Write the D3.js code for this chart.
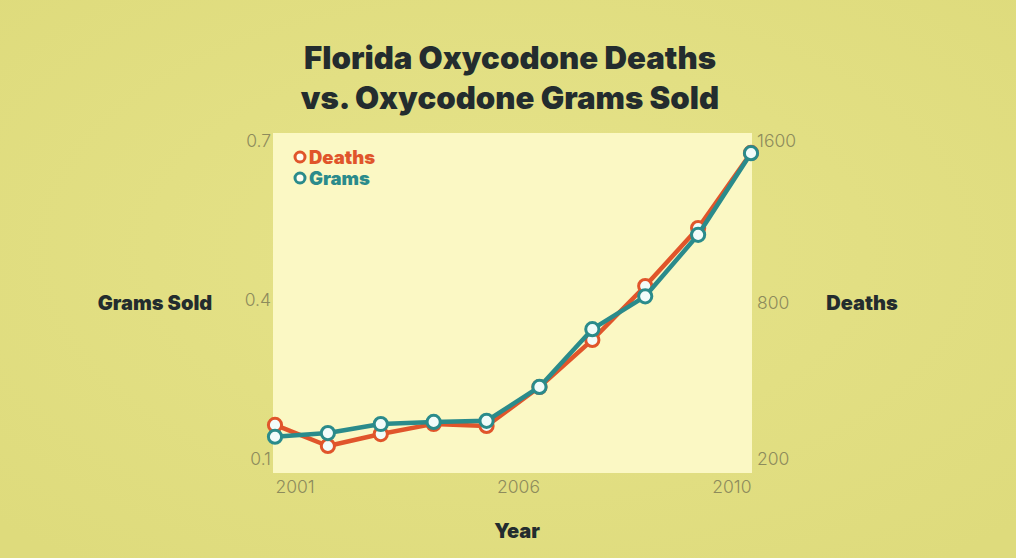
<!DOCTYPE html>
<html>
<head>
<meta charset="utf-8">
<script src="https://cdn.jsdelivr.net/npm/d3@7/dist/d3.min.js"></script>
<style>
  html, body { margin: 0; padding: 0; background: #e3e084; }
  svg { display: block; }
</style>
</head>
<body>
<svg id="chart" width="1016" height="558"></svg>
<script>
// ---- data ----
const years = [2001, 2002, 2003, 2004, 2005, 2006, 2007, 2008, 2009, 2010];
const grams = [0.142, 0.149, 0.166, 0.170, 0.172, 0.236, 0.345, 0.407, 0.523, 0.677];
const deaths = [331, 250, 296, 335, 327, 477, 658, 884, 1170, 1541];
const gramsTicks = [0.1, 0.4, 0.7];
const deathsTicks = [200, 800, 1600];
const yearTicks = [2001, 2006, 2010];
const titleLines = ["Florida Oxycodone Deaths", "vs. Oxycodone Grams Sold"];

// ---- layout ----
const W = 1016, H = 558;
const plot = { left: 273, right: 752, top: 133, bottom: 473 };
const colors = { deaths: "#e0552b", grams: "#2a8b8b", dark: "#232c2e", tick: "#8d8b5c", plotBg: "#fbf8c4" };
const FONT = "Inter, 'Open Sans', sans-serif";

const svg = d3.select("#chart");

// background
const defs = svg.append("defs");
const grad = defs.append("radialGradient").attr("id", "bgGrad").attr("cx", "50%").attr("cy", "45%").attr("r", "70%");
grad.append("stop").attr("offset", "0%").attr("stop-color", "#e6e38a");
grad.append("stop").attr("offset", "100%").attr("stop-color", "#dedb7c");
svg.append("rect").attr("width", W).attr("height", H).attr("fill", "url(#bgGrad)");

// plot area
svg.append("rect")
  .attr("x", plot.left).attr("y", plot.top)
  .attr("width", plot.right - plot.left).attr("height", plot.bottom - plot.top)
  .attr("fill", colors.plotBg);

// scales
const x = d3.scaleLinear().domain([2001, 2010]).range([275, 751]);
const yG = d3.scaleLinear().domain([0.1, 0.7]).range([459, 141]);
const yD = d3.scaleLinear().domain([200, 800, 1600]).range([459, 303, 141]);

// title
svg.append("g").selectAll("text").data(titleLines).join("text")
  .attr("x", 510).attr("y", (d, i) => 69 + i * 39.5)
  .attr("text-anchor", "middle")
  .attr("font-family", FONT)
  .attr("font-weight", 900)
  .attr("font-size", 31.2)
  .attr("fill", colors.dark)
  .text(d => d);

// axes
function styleAxis(g) {
  g.select(".domain").remove();
  g.selectAll(".tick line").remove();
  g.selectAll(".tick text")
    .attr("font-family", FONT)
    .attr("font-weight", 300)
    .attr("font-size", 17.5)
    .attr("fill", colors.tick);
}

const axL = svg.append("g").attr("transform", `translate(271,0)`)
  .call(d3.axisLeft(yG).tickValues(gramsTicks).tickSize(0).tickPadding(0).tickFormat(d3.format(".1f")));
styleAxis(axL);

const axR = svg.append("g").attr("transform", `translate(757,0)`)
  .call(d3.axisRight(yD).tickValues(deathsTicks).tickSize(0).tickPadding(0).tickFormat(d3.format("d")));
styleAxis(axR);

const axB = svg.append("g").attr("transform", `translate(0,480)`)
  .call(d3.axisBottom(x).tickValues(yearTicks).tickSize(0).tickPadding(0).tickFormat(d3.format("d")));
styleAxis(axB);
axB.selectAll(".tick text")
  .attr("dy", "0.72em")
  .attr("text-anchor", d => d === 2001 ? "start" : "end");

// axis titles
const axisTitle = (txt, xx, yy) => svg.append("text")
  .attr("x", xx).attr("y", yy).attr("text-anchor", "middle")
  .attr("font-family", FONT)
  .attr("font-weight", 900).attr("font-size", 20)
  .attr("fill", colors.dark).text(txt);
axisTitle("Grams Sold", 155, 310);
axisTitle("Deaths", 862, 310);
axisTitle("Year", 517, 538);

// lines and markers
const series = [
  { name: "Deaths", values: deaths, y: yD, color: colors.deaths },
  { name: "Grams", values: grams, y: yG, color: colors.grams }
];

series.forEach(s => {
  const line = d3.line().x((d, i) => x(years[i])).y(d => s.y(d));
  svg.append("path").datum(s.values)
    .attr("d", line)
    .attr("fill", "none")
    .attr("stroke", s.color)
    .attr("stroke-width", 4.5)
    .attr("stroke-linejoin", "round");
  svg.append("g").selectAll("circle").data(s.values).join("circle")
    .attr("cx", (d, i) => x(years[i]))
    .attr("cy", d => s.y(d))
    .attr("r", 6.6)
    .attr("fill", "#f2fcfa")
    .attr("stroke", s.color)
    .attr("stroke-width", 3);
});

// legend
const legend = svg.append("g");
series.forEach((s, i) => {
  const ly = 157 + i * 21;
  legend.append("circle").attr("cx", 300).attr("cy", ly).attr("r", 5)
    .attr("fill", "#fffdf0").attr("stroke", s.color).attr("stroke-width", 3);
  legend.append("text").attr("x", 309).attr("y", ly + 6.5)
    .attr("font-family", FONT)
    .attr("font-weight", 900).attr("font-size", 18.5)
    .attr("fill", s.color).text(s.name);
});
</script>
</body>
</html>
